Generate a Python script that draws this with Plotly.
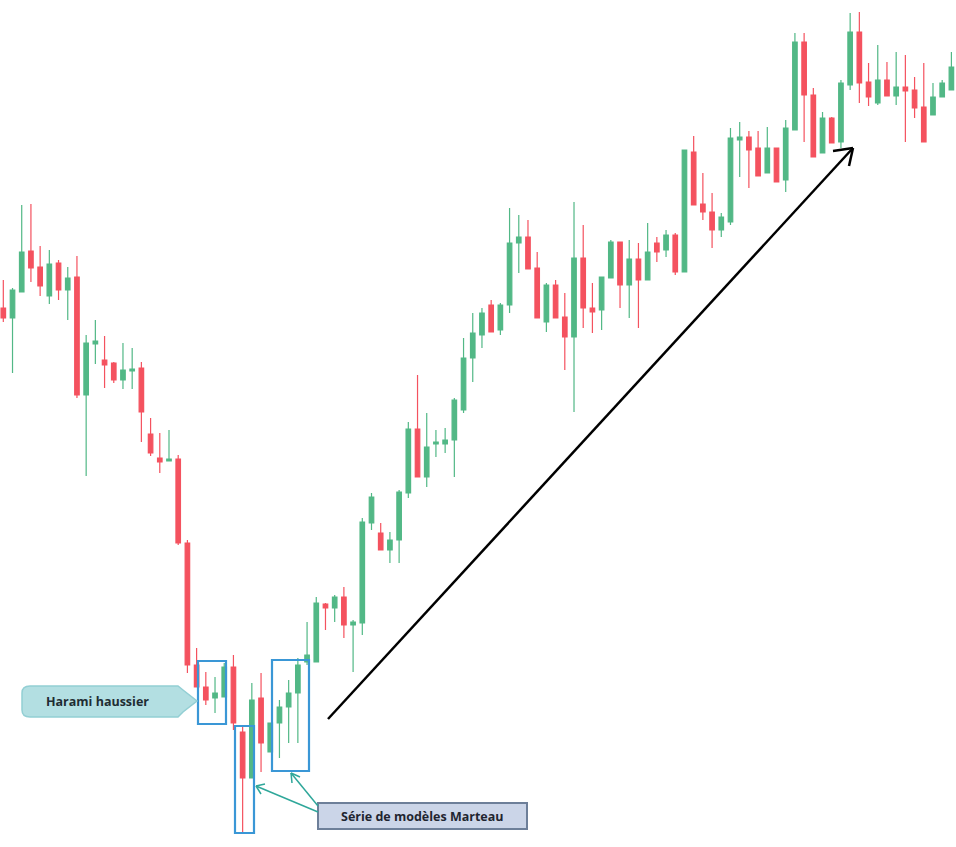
import plotly.graph_objects as go

# candle data (price units = 850 - pixel row)
bar_index = list(range(104))
open_px = [308, 318, 292, 251, 267, 296, 263, 290, 277, 395, 344, 360, 363, 380, 371, 368, 434, 458, 461, 459,
           543, 665, 687, 698, 697, 667, 732, 778, 698, 752, 723, 707, 693, 662, 662, 604, 608, 597, 625, 623,
           523, 533, 550, 540, 493, 429, 477, 444, 444, 440, 410, 358, 335, 305, 330, 305, 243, 237, 268, 322,
           285, 317, 337, 258, 308, 310, 278, 242, 285, 259, 280, 243, 250, 235, 272, 152, 204, 212, 230, 222,
           140, 137, 148, 173, 148, 180, 130, 42, 95, 153, 118, 142, 85, 32, 82, 103, 80, 96, 87, 90,
           107, 115, 97, 90]
close_px = [318, 290, 252, 268, 286, 264, 290, 278, 395, 343, 341, 365, 380, 370, 369, 412, 453, 462, 459, 543,
            665, 687, 700, 693, 667, 723, 778, 700, 743, 723, 707, 693, 665, 655, 603, 608, 597, 625, 622, 522,
            497, 550, 540, 492, 429, 477, 447, 442, 440, 400, 358, 333, 313, 332, 305, 243, 237, 269, 318, 285,
            318, 337, 258, 308, 312, 277, 242, 285, 259, 280, 252, 252, 235, 272, 150, 205, 212, 230, 217, 138,
            137, 150, 176, 148, 182, 128, 42, 95, 157, 118, 143, 83, 32, 83, 97, 80, 96, 87, 91, 108,
            142, 97, 83, 67]
high_px = [280, 288, 205, 204, 246, 250, 260, 267, 256, 335, 320, 336, 362, 343, 348, 362, 418, 433, 430, 455,
           540, 648, 672, 677, 663, 655, 727, 683, 673, 723, 700, 680, 658, 622, 597, 603, 595, 587, 620, 518,
           493, 523, 532, 490, 422, 375, 413, 430, 428, 398, 338, 313, 308, 300, 303, 208, 215, 220, 252, 283,
           280, 293, 202, 225, 283, 277, 240, 242, 240, 243, 223, 237, 230, 233, 150, 136, 173, 193, 213, 128,
           122, 131, 131, 127, 148, 120, 33, 33, 88, 112, 117, 80, 13, 12, 63, 45, 62, 52, 55, 77,
           63, 83, 80, 52]
low_px = [322, 373, 292, 282, 296, 304, 300, 320, 398, 476, 364, 388, 383, 389, 389, 442, 456, 473, 461, 545,
          673, 687, 705, 713, 697, 730, 833, 778, 772, 752, 758, 743, 743, 665, 662, 630, 622, 638, 672, 635,
          530, 550, 563, 563, 498, 477, 487, 457, 453, 477, 413, 382, 348, 332, 335, 313, 273, 269, 318, 332,
          318, 370, 412, 328, 333, 330, 278, 308, 318, 328, 280, 262, 257, 275, 272, 205, 220, 248, 237, 225,
          177, 188, 176, 173, 182, 192, 130, 142, 157, 153, 143, 148, 90, 103, 106, 105, 96, 105, 142, 118,
          142, 115, 97, 90]

to_price = lambda rows: [850 - r for r in rows]

GREEN = "#52b886"
RED = "#f4525f"
BLUE = "#3a97d6"
TEAL = "#2fa79a"

W, H = 956, 847


def px(x):
    return x / W


def py(y):
    return 1 - y / H


fig = go.Figure()
fig.add_trace(
    go.Candlestick(
        x=bar_index,
        open=to_price(open_px),
        high=to_price(high_px),
        low=to_price(low_px),
        close=to_price(close_px),
        increasing=dict(line=dict(color=GREEN, width=1.2), fillcolor=GREEN),
        decreasing=dict(line=dict(color=RED, width=1.2), fillcolor=RED),
        whiskerwidth=0,
        showlegend=False,
        hoverinfo="skip",
    )
)

shapes = []
# pattern boxes
for x0, y0, x1, y1 in [(198, 661, 226, 724), (235, 726, 254, 833), (272, 660, 309, 771)]:
    shapes.append(dict(type="rect", xref="paper", yref="paper", x0=px(x0), x1=px(x1),
                       y0=py(y1), y1=py(y0), line=dict(color=BLUE, width=2.2)))

# "Harami haussier" callout with pointer
pts = [(30, 686), (178, 686), (183, 690), (197, 701), (183, 712), (178, 717), (30, 717)]
path = f"M{px(pts[0][0])},{py(pts[0][1])}"
for x, y in pts[1:]:
    path += f" L{px(x)},{py(y)}"
path += f" Q{px(22)},{py(717)} {px(22)},{py(710)} L{px(22)},{py(693)} Q{px(22)},{py(686)} {px(30)},{py(686)} Z"
shapes.append(dict(type="path", xref="paper", yref="paper", path=path,
                   fillcolor="#b3dfe2", line=dict(color="#93cfd4", width=1.5)))

# "Série de modèles Marteau" label
shapes.append(dict(type="rect", xref="paper", yref="paper", x0=px(318), x1=px(527),
                   y0=py(829), y1=py(803), fillcolor="#cbd5e8", line=dict(color="#6d7f99", width=2)))

# teal pointers
for (x0, y0), (x1, y1), (a1, a2) in [
    ((318, 812), (256, 786), ((265, 784), (261, 794))),
    ((318, 806), (291, 773), ((292, 783), (300, 777))),
]:
    shapes.append(dict(type="line", xref="paper", yref="paper", x0=px(x0), y0=py(y0),
                       x1=px(x1), y1=py(y1), line=dict(color=TEAL, width=1.5)))
    for ax_, ay_ in (a1, a2):
        shapes.append(dict(type="line", xref="paper", yref="paper", x0=px(ax_), y0=py(ay_),
                           x1=px(x1), y1=py(y1), line=dict(color=TEAL, width=1.5)))

# black trend arrow
shapes.append(dict(type="line", xref="paper", yref="paper", x0=px(328), y0=py(719),
                   x1=px(853), y1=py(148), line=dict(color="black", width=2.5)))
for ax_, ay_ in [(833, 151), (849, 166)]:
    shapes.append(dict(type="line", xref="paper", yref="paper", x0=px(ax_), y0=py(ay_),
                       x1=px(853), y1=py(148), line=dict(color="black", width=2.5)))

annotations = [
    dict(text="<b>Harami haussier</b>", xref="paper", yref="paper", x=px(97), y=py(701),
         xanchor="center", yanchor="middle",
         showarrow=False, font=dict(family="Open Sans", size=12.5, color="#1f2d33")),
    dict(text="<b>Série de modèles Marteau</b>", xref="paper", yref="paper", x=px(422), y=py(816),
         xanchor="center", yanchor="middle",
         showarrow=False, font=dict(family="Open Sans", size=12.5, color="#1f2530")),
]

fig.update_layout(
    width=W,
    height=H,
    margin=dict(l=0, r=0, t=0, b=0),
    paper_bgcolor="white",
    plot_bgcolor="white",
    xaxis=dict(range=[-0.36, 103.5], visible=False, rangeslider=dict(visible=False)),
    yaxis=dict(range=[3, 850], visible=False),
    shapes=shapes,
    annotations=annotations,
)

fig.write_html("out.html", config={"displayModeBar": False},
               post_script="document.body.style.margin='0';")
